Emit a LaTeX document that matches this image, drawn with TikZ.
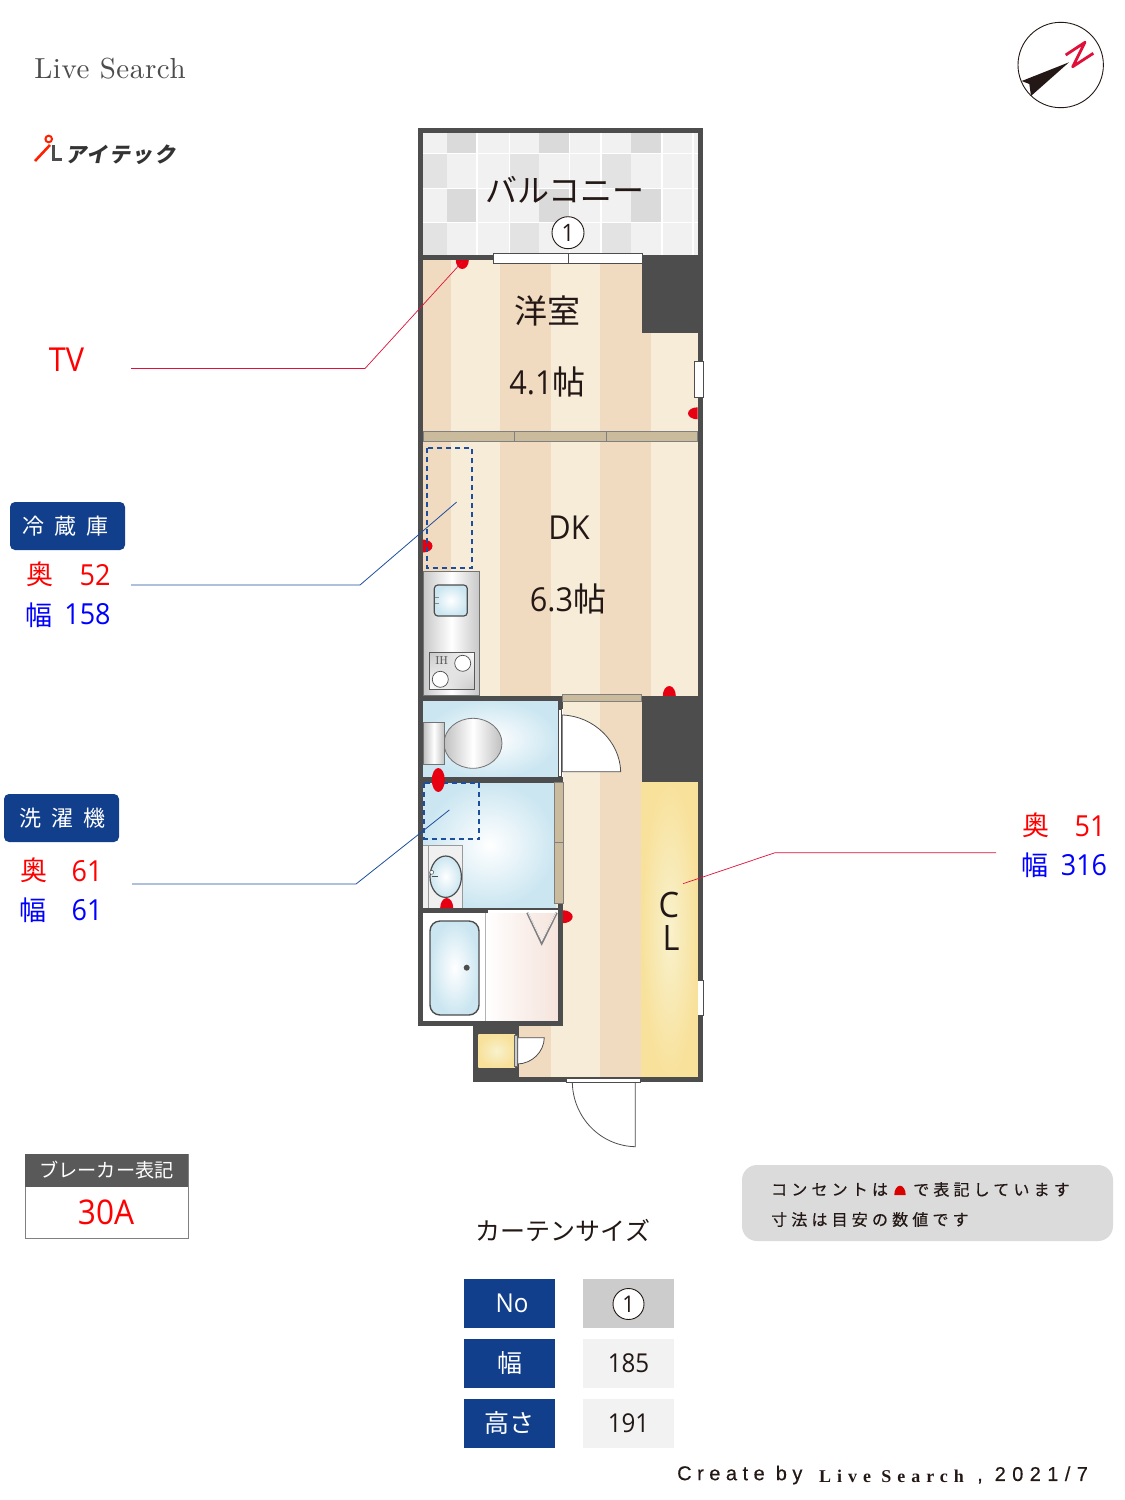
\documentclass[tikz,border=0pt]{standalone}
\usepackage{fontspec}
\usetikzlibrary{shadings}
\setmainfont{Open Sans}[FakeStretch=0.93]
\newfontfamily\jp{Noto Sans CJK JP}
\newfontfamily\arial{Liberation Sans}
\newfontfamily\serifb{Liberation Serif}
\newfontfamily\lmr{Latin Modern Roman}[OpticalSize=10]
\newcommand{\fsz}[1]{\fontsize{#1}{#1}\selectfont}
\definecolor{floorD}{HTML}{F1DBC0}
\definecolor{floorL}{HTML}{F6ECD8}
\definecolor{wall}{HTML}{4D4D4D}
\definecolor{band}{HTML}{C9BB9B}
\definecolor{navy}{HTML}{123F8C}
\definecolor{dash}{HTML}{1D4E9E}
\definecolor{ink}{HTML}{231815}
\definecolor{outlet}{HTML}{E60012}
\definecolor{leadR}{HTML}{E0103A}
\definecolor{aqua}{HTML}{CBE6F1}
\definecolor{tileA}{HTML}{DADADA}
\definecolor{tileB}{HTML}{E3E3E3}
\definecolor{tileC}{HTML}{F1F1F1}
\tikzset{
 wallbar/.style={fill=wall,draw=none},
 bandbox/.style={fill=band,draw=black!50,line width=.6},
 winbox/.style={fill=white,draw=wall,line width=.8},
 outletdot/.style={fill=outlet,draw=none},
 fdash/.style={draw=dash,line width=1.7,dash pattern=on 5pt off 4pt},
 leadred/.style={draw=leadR,line width=.7},
 leadblue/.style={draw=dash,line width=.8},
 txt/.style={inner sep=0,outer sep=0,text=ink},
 roomtxt/.style={txt,font=\fsz{33}},
 redtxt/.style={inner sep=0,text=red,font=\fsz{29}},
 bluetxt/.style={inner sep=0,text=blue,font=\fsz{29}},
 navybox/.style={fill=navy,inner sep=0,text=white,rounded corners=5,minimum width=115,minimum height=48,font=\jp\fsz{22}\addfontfeature{LetterSpace=45}},
 headcell/.style={fill=navy,inner sep=0,text=white,minimum width=91,minimum height=49,font=\fsz{26}},
 valcell/.style={fill=black!5,inner sep=0,text=ink,minimum width=91,minimum height=49,font=\fsz{26}},
 circno/.style={circle,draw=ink,fill=white,line width=.9,inner sep=0,text=ink},
 notetxt/.style={inner sep=0,anchor=west,text=ink,font=\jp\fsz{16}\addfontfeature{LetterSpace=26,FakeBold=.4}},
 doorleaf/.style={fill=white,draw=wall,line width=.8},
}
\begin{document}
\begin{tikzpicture}[x=1pt,y=-1pt]
\useasboundingbox (0,0) rectangle (1125,1500);
\fill[white] (0,0) rectangle (1125,1500);
% balcony tiles
\fill[white] (423,133) rectangle (697.5,255);
\foreach \ya/\yb in {133.3/152.5,154/187.5,189/221.5,223/255}{
 \foreach \xa/\xb in {423.3/476,477.5/508.5,510/568.5,570/600,601.5/661,662.5/692,693.5/697.5}{
  \fill[tileC] (\xa,\ya) rectangle (\xb,\yb);}}
\foreach \xa/\xb in {446.7/476,539/568.5,631/661}{
 \fill[tileA] (\xa,133.3) rectangle (\xb,152.5);
 \fill[tileA] (\xa,189) rectangle (\xb,221.5);}
\foreach \xa/\xb in {423.3/446.7,510/539,601.5/631}{
 \fill[tileB] (\xa,154) rectangle (\xb,187.5);
 \fill[tileB] (\xa,223) rectangle (\xb,255);}
% floor stripes
\fill[floorL] (423,260) rectangle (697.5,696);
\foreach \xa/\xb in {423/451,500/550.7,600/651}{\fill[floorD] (\xa,260) rectangle (\xb,696);}
\fill[floorL] (518,701) rectangle (642,1077);
\fill[floorD] (600,701) rectangle (642,1077);
\fill[floorD] (518,1026) rectangle (551,1077);
% closet
\shade[inner color=white!70!yellow!30!floorL, outer color={rgb,255:red,248;green,225;blue,155}] (641.7,781.7) rectangle (697.5,1077);
% wet rooms
\shade[inner color=white,outer color=aqua] (423,700) rectangle (558,778);
\shade[inner color=white,outer color=aqua] (423,782) rectangle (556,908);
\fill[white] (423,913) rectangle (485.7,1021);
\shade[left color=white,right color={rgb,255:red,245;green,228;blue,221},middle color={rgb,255:red,250;green,240;blue,236}] (485.7,913) rectangle (558,1021);
% outlets: half ellipses against walls
\fill[outletdot] (455.8,260) arc [start angle=180,end angle=0,x radius=6.5,y radius=9] -- cycle;
\fill[outletdot] (697.5,407.3) arc [start angle=-90,end angle=-270,x radius=9.5,y radius=6] -- cycle;
\fill[outletdot] (423,539.5) arc [start angle=-90,end angle=90,x radius=9.5,y radius=6.5] -- cycle;
\fill[outletdot] (662.8,696) arc [start angle=180,end angle=0,x radius=6.5,y radius=-10] -- cycle;
\fill[outletdot] (562.7,910.2) arc [start angle=-90,end angle=90,x radius=10,y radius=6.5] -- cycle;
% kitchen
\shade[left color=black!22,right color=black!22,middle color=white,draw=black!55,line width=.7] (423,571.3) rectangle (479.7,695.7);
\shade[inner color=white,outer color=aqua,draw=wall,line width=1.2,rounded corners=3.5] (434.3,585) rectangle (467.3,616);
\draw[black!45,line width=.7] (434.5,597.5) -- (439,597.5) (434.5,603) -- (439,603);
\shade[upper left=black!22,upper right=white,lower left=white,lower right=black!22,draw=black!65,line width=.7] (429.3,652) rectangle (474.7,689.3);
\node (ih) [inner sep=0,text=wall,font=\lmr\fsz{11.5}] at (441.7,660.5) {IH};
\draw[fill=white,draw=wall,line width=.7] (462.7,663.3) circle [radius=8];
\draw[fill=white,draw=wall,line width=.7] (440.3,679.3) circle [radius=8];
% closet door band
\draw[bandbox] (423,431) rectangle (514.7,441.7);
\draw[bandbox] (514.7,431) rectangle (606,441.7);
\draw[bandbox] (606,431) rectangle (697,441.7);
% walls
\fill[wallbar] (418,128) rectangle (423,1026);
\fill[wallbar] (418,128) rectangle (703,133);
\fill[wallbar] (697.5,128) rectangle (703,1081.7);
\fill[wallbar] (418,255) rectangle (703,260);
\fill[wallbar] (642.3,255) rectangle (703,332.7);
\fill[wallbar] (418,695.7) rectangle (562.7,700.7);
\fill[wallbar] (418,777.3) rectangle (562.7,782.7);
\fill[wallbar] (418,907.7) rectangle (562.7,913.3);
\fill[wallbar] (558,700) rectangle (562.7,1026);
\fill[wallbar] (418,1020.7) rectangle (562.7,1026);
\fill[wallbar] (641.7,695.7) rectangle (703,781.7);
\fill[wallbar] (473.3,1026) rectangle (518.7,1081.7);
\fill[wallbar] (473.3,1076.7) rectangle (703,1081.7);
% balcony window
\draw[winbox] (493.3,253.5) rectangle (568,263.2);
\draw[winbox] (568,253.5) rectangle (642.7,263.2);
\draw[winbox] (694.3,361) rectangle (703.7,397.3);
\fill[white] (697.5,980) rectangle (703.7,1015.7);
\draw[wall,line width=.7] (697.5,980) -- (703.7,980) -- (703.7,1015.7) -- (697.5,1015.7);
% toilet door + band
\draw[bandbox] (562.7,694.3) rectangle (641,701.7);
\fill[white] (558,709) rectangle (562.7,776.7);
\draw[wall,line width=.8] (558.6,709) rectangle (561.8,776.7);
\draw[doorleaf] (562.3,771.7) -- (562.3,715) .. controls (594,716) and (620,742) .. (620.7,771.7) -- cycle;
% toilet
\shade[shading angle=45,left color=black!25,right color=black!25,middle color=white,draw=black!55,line width=.8] (473,743.3) ellipse [x radius=29,y radius=25];
\shade[shading angle=45,left color=black!25,right color=black!25,middle color=white,draw=black!55,line width=.8] (423.3,722.3) rectangle (444.7,764);
% wash room
\draw[bandbox] (554.3,782.7) rectangle (563.7,842.7);
\draw[bandbox] (554.3,842.7) rectangle (563.7,903.3);
\fill[black!6] (423.3,845) rectangle (462.7,907.7);
\draw[black!40,line width=.7] (423.3,845) -- (462.7,845) -- (462.7,907.7) (428.3,845) -- (428.3,907.7);
\fill[outletdot] (440.2,908) arc [start angle=180,end angle=0,x radius=6.5,y radius=-10] -- cycle;
\shade[inner color=white,outer color=aqua,draw=wall,line width=1.2] (445.7,876.7) ellipse [x radius=15.7,y radius=20.7];
\draw[wall,line width=.8] (431.7,876) -- (437.5,876);
\draw[fill=white,draw=wall,line width=.5] (431.7,872.3) circle [radius=2];
% bath
\fill[white] (487.7,910) rectangle (557.7,912.7);
\shade[inner color=white,outer color=aqua,draw=wall,line width=1.4,rounded corners=10] (430,921) rectangle (479,1015);
\fill[wall] (466.7,967.7) circle [radius=3];
\draw[black!50,line width=2.2] (527.3,912.7) -- (541.7,943.3) -- (556.7,912.7);
\draw[white,line width=.6] (528,912.7) -- (541.7,941) -- (556,912.7);
\draw[black!30,line width=.6] (485.7,913) -- (485.7,1021);
% entrance cabinet
\shade[inner color=white!70!yellow!30!floorL, outer color={rgb,255:red,248;green,225;blue,155}] (478.3,1034.7) rectangle (515,1067.3);
\draw[fill=black!20,draw=black!60,line width=.6] (514.3,1035.7) rectangle (517.7,1066.7);
\draw[doorleaf] (517.7,1037.7) -- (544.3,1037.7) .. controls (544,1052) and (532,1063.5) .. (517.7,1064) -- cycle;
% front door
\draw[winbox] (566.7,1078.3) rectangle (640.7,1082.3);
\draw[wall,line width=.8] (635.3,1082.3) -- (635.3,1146.7) .. controls (601,1146) and (573,1118) .. (572.3,1082.3);
% dashed appliance outlines
\draw[fdash] (427.3,447.7) rectangle (471.7,568.3);
\draw[fdash] (424.3,783.3) rectangle (479.3,839);
\fill[outletdot] (438.3,780) ellipse [x radius=6.5,y radius=12];
% room labels
\node (balcony) [txt,font=\jp\fsz{32}] at (565,190) {バルコニー};
\node (no1a) [circno,minimum size=32,font=\fsz{24}] at (568,232.7) {1};
\node (yoshitsu) [roomtxt,font=\jp\fsz{33}] at (547.5,311) {洋室};
\node (yosize) [roomtxt] at (547.5,382) {4.1{\jp 帖}};
\node (dk) [roomtxt] at (569,528) {DK};
\node (dksize) [roomtxt] at (568,599) {6.3{\jp 帖}};
\node (clc) [txt,font=\fsz{35}] at (669,905) {C};
\node (cll) [txt,font=\fsz{35}] at (671,938) {L};
% logo
\node (livesearch) [inner sep=0,text=black!70,font=\lmr\fsz{29}\addfontfeature{LetterSpace=2}] at (110,69) {Live Search};
\draw[red!75!orange,line width=2] (48.7,139) circle [radius=3.3];
\draw[red!75!orange,line width=2.6] (35,161) -- (50,145);
\draw[wall,line width=2.4] (53.3,145) -- (53.3,159.3) -- (62.3,159.3);
\node (aitekku) [inner sep=0,xslant=.2,text=black!80,font=\jp\bfseries\fsz{21}\addfontfeature{LetterSpace=8}] at (122,154.5) {アイテック};
% compass
\draw[ink,line width=.9] (1060.7,65) circle [radius=42.7];
\fill[ink] (1069,62.3) -- (1021.7,81) -- (1029.3,84) -- (1031,96) -- cycle;
\draw[leadR,line width=2.8,line join=round] (1065.7,55) -- (1085,42.3) -- (1072.7,66.7) -- (1093.3,53.3);
% side labels
\node (tvlabel) [redtxt,font=\fsz{33}] at (66.5,360) {TV};
\node (fridge) [navybox] at (67.5,526) {冷蔵庫\hspace*{4pt}};
\node (fd) [redtxt,font=\jp\fsz{27}] at (40,574) {奥};
\node (fdn) [redtxt] at (95,575) {52};
\node (fw) [bluetxt,font=\jp\fsz{27}] at (39,615) {幅};
\node (fwn) [bluetxt] at (87.5,614) {158};
\node (washer) [navybox] at (61.5,818) {\hspace*{2pt}洗濯機};
\node (wd) [redtxt,font=\jp\fsz{27}] at (34,870) {奥};
\node (wdn) [redtxt] at (87,871) {61};
\node (ww) [bluetxt,font=\jp\fsz{27}] at (33,910) {幅};
\node (wwn) [bluetxt] at (87,910) {61};
\node (cd) [redtxt,font=\jp\fsz{27}] at (1036,825) {奥};
\node (cdn) [redtxt] at (1090,826) {51};
\node (cw) [bluetxt,font=\jp\fsz{27}] at (1035,865) {幅};
\node (cwn) [bluetxt] at (1084,865) {316};
% leaders
\coordinate (tvA) at (131,368.5);
\coordinate (tvB) at (365,368.5);
\coordinate (tvC) at (462,262);
\draw[leadred] (tvA) -- (tvB) -- (tvC);
\coordinate (frA) at (131,585);
\coordinate (frB) at (360,585);
\coordinate (frC) at (456.7,502);
\draw[leadblue] (frA) -- (frB) -- (frC);
\coordinate (waA) at (132,884);
\coordinate (waB) at (356,884);
\coordinate (waC) at (449.3,810);
\draw[leadblue] (waA) -- (waB) -- (waC);
\coordinate (clA) at (996,852.7);
\coordinate (clB) at (775,852.7);
\coordinate (clC) at (683,883.7);
\draw[leadred] (clA) -- (clB) -- (clC);
% breaker
\draw[black!50,line width=.9] (25,1154) rectangle (188,1238);
\fill[black!65] (25,1154) rectangle (188,1187);
\node (brkhead) [inner sep=0,text=white,font=\jp\fsz{19.2}] at (106.5,1170.5) {ブレーカー表記};
\node (brkval) [inner sep=0,text=red,font=\fsz{34}] at (106,1212) {30A};
% curtain table
\node (curtain) [txt,font=\jp\fsz{25}] at (563,1230) {カーテンサイズ};
\node (hNo) [headcell] at (509.5,1303.5) {\hspace*{5pt}No};
\node (hW) [headcell,font=\jp\fsz{25}] at (509.5,1363) {幅};
\node (hH) [headcell,font=\jp\fsz{25}] at (509.5,1423) {高さ};
\node (vNo) [valcell,fill=black!20] at (628.5,1303.5) {};
\node (no1b) [circno,minimum size=31,font=\fsz{23}] at (628.5,1304) {1};
\node (vW) [valcell] at (628.5,1363) {185};
\node (vH) [valcell] at (628.5,1423) {191};
% note
\fill[black!14,rounded corners=15] (742,1165) rectangle (1113,1241);
\node (note1a) [notetxt] at (771,1189.5) {コンセントは};
\fill[red!85!black] (894.3,1195) arc [start angle=180,end angle=0,x radius=5.7,y radius=-9.3] -- cycle;
\node (note1b) [notetxt] at (913,1189.5) {で表記しています};
\node (note2) [notetxt] at (771,1219.5) {寸法は目安の数値です};
% credit
\node (cr1) [inner sep=0,anchor=west,text=ink,font=\arial\fsz{20}\addfontfeature{LetterSpace=27.5,FakeBold=.3}] at (677,1475) {Create by};
\node (cr2) [inner sep=0,anchor=west,text=ink,font=\serifb\bfseries\fsz{18}\addfontfeature{LetterSpace=33}] at (819,1476) {Live Search};
\node (cr3) [inner sep=0,anchor=west,text=ink,font=\arial\fsz{20}\addfontfeature{LetterSpace=32,FakeBold=.3}] at (977,1475) {, 2021/7};
\end{tikzpicture}
\end{document}
